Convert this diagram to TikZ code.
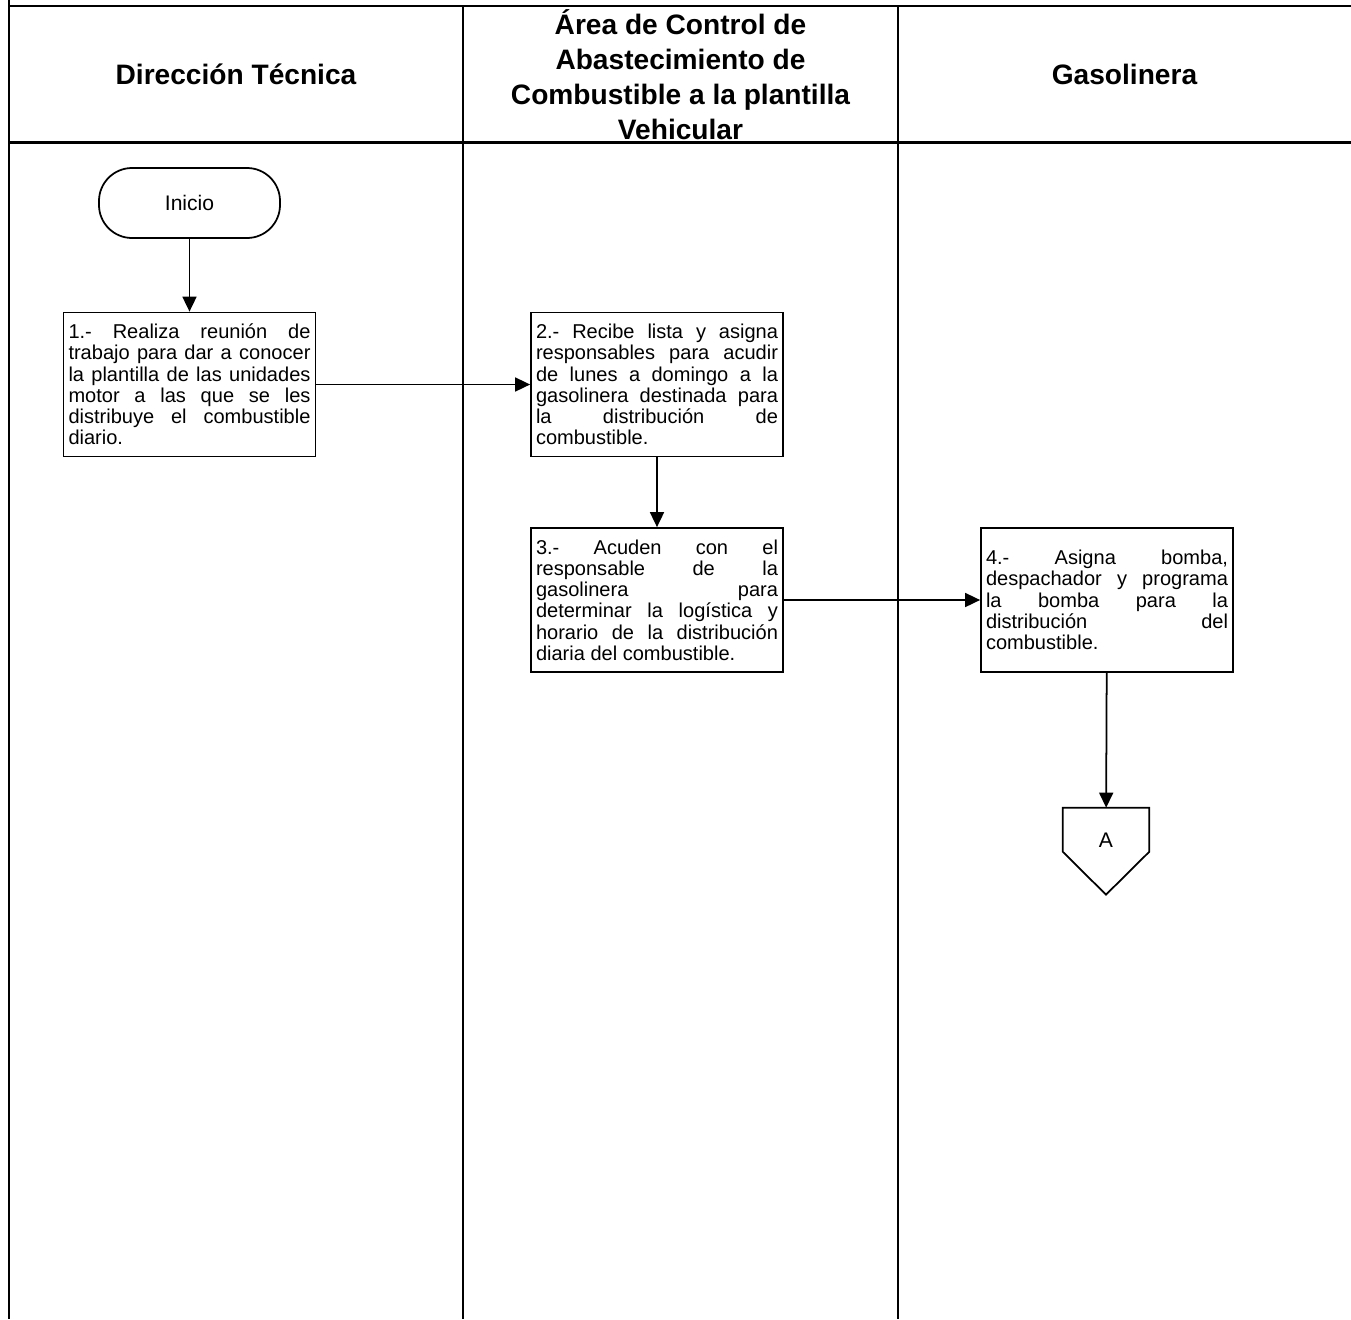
\documentclass[tikz,border=0pt]{standalone}
\usepackage{fontspec}
\setmainfont{Liberation Sans}
\usetikzlibrary{arrows.meta}
\tolerance=9999
\hbadness=10000

\tikzset{
  carril/.style={line width=1.3pt},
  caja/.style={draw, line width=1pt, text width=4.84cm, inner xsep=0.1cm, minimum height=2.88cm, align=justify, font=\fontsize{11.4}{12.1}\selectfont},
  inicio/.style={draw, line width=1pt, rounded corners=0.66cm, minimum width=3.62cm, minimum height=1.4cm, font=\fontsize{12}{14}\selectfont},
  conector/.style={minimum width=1.72cm, minimum height=1.28cm, inner sep=0pt, font=\fontsize{12}{14}\selectfont},
  encabezado/.style={align=center, font=\bfseries\fontsize{16}{20}\selectfont},
  flecha/.style={-{Triangle[length=0.3cm,width=0.28cm]}, line width=1pt}
}

\begin{document}
\begin{tikzpicture}
  \useasboundingbox (0,0) rectangle (27.02,-26.38);
  \draw [carril] (0.18,0) -- (0.18,-26.38);
  \draw [carril] (0.18,-0.12) -- (27.02,-0.12);
  \draw [carril] (0.18,-2.85) -- (27.02,-2.85);
  \draw [carril] (9.26,-0.12) -- (9.26,-26.38);
  \draw [carril] (17.96,-0.12) -- (17.96,-26.38);

  \node [encabezado] (encDir) at (4.72,-1.49) {Dirección Técnica};
  \node [encabezado] (encArea) at (13.61,-1.49) {Área de Control de\\Abastecimiento de\\Combustible a la plantilla\\Vehicular};
  \node [encabezado] (encGas) at (22.49,-1.49) {Gasolinera};

  \node [inicio] (inicio) at (3.79,-4.06) {Inicio};
  \node [caja] (paso1) at (3.79,-7.69) {1.- Realiza reunión de\linebreak trabajo para dar a conocer\linebreak la plantilla de las unidades\linebreak motor a las que se les\linebreak distribuye el combustible\linebreak diario.};
  \node [caja] (paso2) at (13.14,-7.69) {2.- Recibe lista y asigna\linebreak responsables para acudir\linebreak de lunes a domingo a la\linebreak gasolinera destinada para\linebreak la distribución de\linebreak combustible.};
  \node [caja] (paso3) at (13.14,-12.0) {3.- Acuden con el\linebreak responsable de la\linebreak gasolinera para\linebreak determinar la logística y\linebreak horario de la distribución\linebreak diaria del combustible.};
  \node [caja] (paso4) at (22.14,-12.0) {4.- Asigna bomba,\linebreak despachador y programa\linebreak la bomba para la\linebreak distribución del\linebreak combustible.};
  \node [conector] (conA) at (22.12,-16.8) {A};
  \draw [line width=1pt] (conA.north west) -- (conA.north east) -- ([yshift=-0.88cm]conA.north east) -- ([yshift=-1.74cm]conA.north) -- ([yshift=-0.88cm]conA.north west) -- cycle;

  \draw [flecha] (inicio) -- (paso1);
  \draw [flecha] (paso1) -- (paso2);
  \draw [flecha] (paso2) -- (paso3);
  \draw [flecha] (paso3) -- (paso4);
  \draw [flecha] (paso4) -- (conA);
\end{tikzpicture}
\end{document}
